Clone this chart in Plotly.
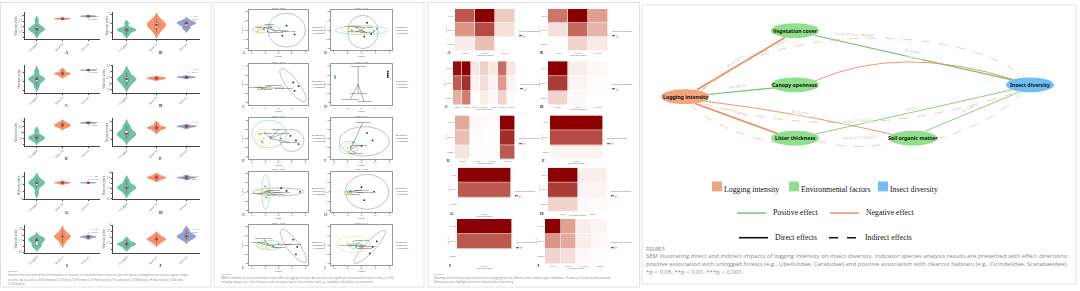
import numpy as np
import plotly.graph_objects as go

W, H = 1080, 291

# ======================= DATA =======================
groups = ["Unlogged", "Selective", "Clearcut"]
letters = list("ABCDEFGHIJ")

# Shannon index samples (Figure 2 violins)
viol_A = [[1.3, 1.6, 1.7, 1.75, 1.8, 1.9, 2.1, 2.6], [2.68, 2.7, 2.72, 2.73, 2.75, 2.78], [2.92, 2.95, 2.96, 2.98, 3.0]]
viol_B = [[0.7, 1.0, 1.2, 1.25, 1.3, 1.35, 1.5, 2.0], [1.0, 1.4, 1.6, 1.8, 1.85, 2.0, 2.2, 2.5], [1.4, 1.5, 1.9, 2.0, 2.0, 2.05, 2.1, 2.3]]
viol_C = [[1.4, 1.9, 2.2, 2.3, 2.35, 2.5, 3.2], [2.6, 2.8, 2.9, 2.92, 3.0, 3.3], [3.28, 3.3, 3.31, 3.32]]
viol_D = [[1.8, 2.1, 2.3, 2.4, 2.45, 2.6, 3.0], [2.35, 2.4, 2.45, 2.46, 2.5, 2.55], [2.48, 2.52, 2.55, 2.56, 2.6]]
viol_E = [[1.3, 1.45, 1.55, 1.6, 1.65, 1.8, 2.2], [2.45, 2.55, 2.62, 2.65, 2.7, 2.8, 2.9], [2.82, 2.84, 2.85, 2.87, 2.9]]
viol_F = [[1.0, 1.3, 1.5, 1.6, 1.65, 1.8, 2.2, 2.6], [1.9, 2.15, 2.25, 2.3, 2.35, 2.45, 2.8], [2.3, 2.4, 2.45, 2.47, 2.5, 2.6]]
viol_G = [[0.8, 1.6, 2.0, 2.15, 2.2, 2.3, 2.5, 2.9], [2.05, 2.15, 2.2, 2.22, 2.25, 2.35], [2.18, 2.2, 2.21, 2.22]]
viol_H = [[1.0, 1.3, 1.5, 1.55, 1.6, 1.7, 1.9, 2.3], [2.3, 2.45, 2.5, 2.55, 2.6, 2.65, 2.8], [2.4, 2.5, 2.53, 2.55, 2.58, 2.7]]
viol_I = [[1.0, 1.05, 1.1, 1.5, 1.55, 1.6, 1.65, 1.7, 1.8], [1.3, 1.6, 1.75, 1.85, 1.9, 2.0, 2.1, 2.4], [1.7, 1.8, 1.83, 1.85, 1.88, 1.95]]
viol_J = [[1.1, 1.3, 1.4, 1.45, 1.5, 1.55, 1.8], [1.5, 1.7, 1.8, 1.85, 1.9, 2.0, 2.2], [1.8, 1.95, 2.05, 2.1, 2.15, 2.3, 2.6]]
violin_sets = [viol_A, viol_B, viol_C, viol_D, viol_E, viol_F, viol_G, viol_H, viol_I, viol_J]
kw_text = ["H=21.52<br>p < 0.001", "H=8.34<br>p = 0.015", "H=18.40<br>p < 0.001", "H=6.21<br>p = 0.045",
           "H=19.87<br>p < 0.001", "H=9.12<br>p = 0.010", "H=4.05<br>p = 0.132", "H=16.73<br>p < 0.001",
           "H=7.66<br>p = 0.022", "H=12.48<br>p = 0.002"]

# NMDS (Figure 3): groups Clearcut / Selective / Unlogged
nmds_groups = ["Clearcut", "Selective", "Unlogged"]
nmds_stress = ["0.085", "0.112", "0.047", "0.000", "0.134", "0.121", "0.066", "0.098", "0.102", "0.117"]
nmds_pts = [
    [[(0.3, 0.24), (0.6, -0.23), (0.14, -0.3)], [(-0.3, 0.15), (-0.55, 0.05), (-0.4, -0.05)], [(-0.75, 0.0), (-0.8, -0.1), (-0.65, 0.05)]],
    [[(0.2, 0.4), (0.35, -0.2), (0.1, -0.35)], [(0.45, -0.05), (-0.35, 0.0), (0.55, 0.08)], [(-0.45, 0.1), (-0.25, -0.05), (0.0, 0.02)]],
    [[(0.55, 0.1), (0.75, -0.1), (0.6, -0.35)], [(-0.7, -0.15), (-0.6, -0.2)], [(-0.75, -0.25), (-0.55, -0.22)]],
    [[(0.95, 0.7), (0.95, 0.6), (0.95, 0.5), (0.95, 0.4)], [(-0.95, 0.45), (-0.95, 0.35)], []],
    [[(0.45, 0.15), (0.65, -0.1), (0.75, -0.3)], [(-0.5, 0.3), (-0.3, 0.1), (-0.6, -0.2), (0.1, 0.0)], [(-0.7, 0.2), (-0.65, -0.1), (-0.55, 0.0)]],
    [[(0.2, 0.3), (0.4, -0.1), (0.0, -0.4)], [(-0.4, -0.45), (-0.3, -0.2)], [(-0.5, -0.5), (-0.45, -0.7)]],
    [[(0.1, 0.2), (0.8, 0.0), (0.3, 0.05)], [(-0.5, 0.3), (-0.45, -0.3), (-0.5, 0.0)], [(-0.6, 0.05), (-0.55, -0.05)]],
    [[(0.0, 0.25), (0.45, 0.0), (0.1, -0.45)], [(-0.5, 0.0), (-0.4, 0.05)], [(-0.6, -0.02), (-0.45, -0.05)]],
    [[(0.55, 0.3), (0.7, -0.1), (0.65, -0.5)], [(-0.4, 0.05), (-0.2, -0.05), (0.0, 0.05)], [(-0.6, -0.05), (-0.45, -0.1)]],
    [[(0.55, 0.2), (0.4, -0.1), (0.3, -0.45)], [(-0.2, -0.1), (0.0, 0.0)], [(-0.5, 0.1), (-0.3, 0.2), (-0.4, -0.05)]],
]
# ellipses: (group, cx, cy, rx, ry, angle)
nmds_ell = [
    [(0, 0.3, 0.0, 0.7, 0.92, 0), (1, -0.45, 0.05, 0.5, 0.2, 0), (2, -0.75, 0.0, 0.25, 0.17, 0)],
    [(0, 0.05, -0.1, 0.55, 0.9, 0), (1, 0.0, 0.0, 0.95, 0.25, 0), (2, -0.15, 0.05, 0.6, 0.2, 0)],
    [(0, 0.54, -0.05, 0.25, 1.0, 26)],
    [],
    [(0, 0.5, -0.1, 0.45, 0.6, 0), (1, -0.35, 0.25, 0.65, 0.75, 0), (2, -0.6, 0.0, 0.3, 0.5, 0)],
    [(0, 0.1, -0.15, 0.9, 0.8, 0), (1, -0.45, -0.5, 0.35, 0.35, 0), (2, -0.4, -0.5, 0.25, 0.25, 0)],
    [(0, 0.0, 0.0, 0.95, 0.22, 0), (1, -0.48, 0.0, 0.15, 0.95, 0), (2, -0.55, 0.0, 0.2, 0.15, 0)],
    [(0, 0.2, 0.0, 0.78, 0.95, 0), (2, -0.5, 0.0, 0.15, 0.08, 0)],
    [(0, 0.55, -0.05, 0.25, 1.0, 26), (1, -0.35, 0.0, 0.5, 0.25, 0), (2, -0.5, -0.05, 0.3, 0.15, 0)],
    [(0, 0.3, -0.1, 0.22, 1.05, -31), (2, -0.3, 0.05, 0.6, 0.45, 0), (1, -0.2, -0.05, 0.25, 0.15, 0)],
]
# environmental vectors: (x0, y0, x1, y1, label)
nmds_vec = [
    [(-0.2, 0.0, -0.55, 0.15, "Canopy openness"), (-0.2, 0.0, 0.35, -0.05, "Vegetation cover"), (-0.2, 0.0, -0.1, -0.12, "Litter thickness"), (-0.2, 0.0, -0.35, 0.28, "Carabidae")],
    [(0, 0, -0.3, 0.2, "Vegetation cover"), (0, 0, 0.2, -0.15, "Litter thickness"), (0, 0, -0.2, -0.1, "Canopy openness"), (0, 0, 0.1, 0.12, "Soil organic matter")],
    [(-0.6, -0.2, -0.2, -0.05, "Canopy openness"), (-0.6, -0.2, 0.2, -0.2, "Soil organic matter"), (-0.6, -0.2, -0.85, -0.15, "Vegetation cover"), (-0.6, -0.2, -0.5, -0.3, "Litter thickness")],
    [(-0.12, 0.0, -0.12, 0.95, "Vegetation cover"), (-0.12, 0.0, -0.12, -0.5, "Canopy openness"), (-0.12, 0.0, -0.4, -0.8, "Soil organic matter"), (-0.12, 0.0, 0.1, -0.95, "Litter thickness")],
    [(-0.3, 0.0, 0.0, 0.5, "Vegetation cover"), (-0.3, 0.0, 0.4, -0.2, "Soil organic matter"), (-0.3, 0.0, -0.5, 0.3, "Litter thickness"), (-0.3, 0.0, 0.1, 0.25, "Canopy openness")],
    [(-0.4, -0.6, 0.05, 0.9, "Vegetation cover"), (-0.4, -0.6, -0.1, -0.35, "Canopy openness"), (-0.4, -0.6, -0.2, -0.8, "Litter thickness")],
    [(-0.45, 0.0, -0.2, 0.1, "Litter thickness"), (-0.45, 0.0, 0.1, -0.05, "Canopy openness"), (-0.45, 0.0, -0.7, -0.1, "Vegetation cover"), (-0.45, 0.0, -0.1, -0.15, "Soil organic matter")],
    [(-0.45, 0.0, 0.0, 0.1, "Vegetation cover"), (-0.45, 0.0, 0.1, -0.05, "Canopy openness"), (-0.45, 0.0, -0.3, -0.15, "Litter thickness")],
    [(-0.4, 0.0, -0.55, 0.35, "Soil organic matter"), (-0.4, 0.0, -0.75, 0.12, "Vegetation cover"), (-0.4, 0.0, 0.55, 0.05, "Canopy openness"), (-0.4, 0.0, 0.0, -0.15, "Litter thickness")],
    [(-0.2, 0.0, 0.0, 0.25, "Vegetation cover"), (-0.2, 0.0, -0.5, 0.0, "Soil organic matter"), (-0.2, 0.0, 0.2, -0.05, "Canopy openness"), (-0.2, 0.0, 0.1, -0.2, "Litter thickness")],
]

# Heatmaps (Figure 4): rows top->bottom
heat_rows = ["Clearcut", "Selective", "Unlogged"]
heat_A = [[0.7, 1.0, 0.25], [0.5, 0.75, 0.15], [0.1, 0.3, 0.0]]
heat_B = [[0.6, 1.0, 0.45], [0.15, 0.65, 0.35], [0.0, 0.2, 0.1]]
heat_C = [[0.9, 0.95, 0.1, 0.2, 0.1, 0.6, 0.1], [0.65, 0.8, 0.05, 0.15, 0.05, 0.45, 0.05], [0.35, 0.55, 0.0, 0.08, 0.03, 0.2, 0.02]]
heat_D = [[1.0, 0.08, 0.03], [0.8, 0.05, 0.02], [0.2, 0.03, 0.0]]
heat_E = [[0.4, 0.03, 0.02, 1.0], [0.3, 0.02, 0.01, 0.85], [0.12, 0.02, 0.01, 0.7]]
heat_F = [[1.0], [0.75], [0.05]]
heat_G = [[1.0], [0.7], [0.0]]
heat_H = [[1.0, 0.08], [0.8, 0.05], [0.2, 0.02]]
heat_I = [[1.0], [0.7], [0.0]]
heat_J = [[1.0, 0.45, 0.08, 0.05], [0.5, 0.4, 0.08, 0.03], [0.2, 0.15, 0.03, 0.01]]
heat_sets = [heat_A, heat_B, heat_C, heat_D, heat_E, heat_F, heat_G, heat_H, heat_I, heat_J]
func_groups = ["Predator", "Herbivore", "Detritivore", "Parasitoid", "Pollinator", "Omnivore", "Fungivore"]

# SEM (Figure 5)
sem_nodes = ["Logging intensity", "Vegetation cover", "Canopy openness", "Litter thickness", "Soil organic matter", "Insect diversity"]
sem_node_type = ["logging", "env", "env", "env", "env", "insect"]
sem_edge_labels = ["β=-0.78***", "β=0.65***", "β=-0.12* (via LT&SOM)", "β=-0.69**", "β=-0.31*", "β=-0.63***",
                   "β=-0.41**", "β=0.25*", "β=-0.22* (via CO)", "β=-0.54*** (via VC)", "β=0.38*"]
legend_items = ["Logging intensity", "Environmental factors", "Insect diversity"]
effect_items = ["Positive effect", "Negative effect"]
path_items = ["Direct effects", "Indirect effects"]

cap2 = ("FIGURE 2",
        "Shannon diversity index of insect communities in response to silvicultural interventions for pine wilt disease management across four regions, Jiangxi",
        "province. (A) Coleoptera, (B) Dermaptera, (C) Diptera, (D) Hemiptera, (E) Hymenoptera, (F) Lepidoptera, (G) Mantodea, (H) Neuroptera, (I) Odonata,",
        "(J) Orthoptera.")
cap3 = ("FIGURE 3",
        "NMDS ordination of insect communities under different logging intensities. Arrows represent significant environmental vectors (envfit, p < 0.05),",
        "including canopy cover, litter thickness, and soil organic matter. Key sensitive taxa (e.g., Carabidae, Libellulidae) are annotated.")
cap4 = ("FIGURE 4",
        "Heatmap of functional group proportions across logging intensity. Warmer colors indicate higher abundance. Predatory Coleoptera and parasitoid",
        "Hymenoptera are highlighted as most reduced under clearcutting.")
cap5 = ("FIGURE 5",
        "SEM illustrating direct and indirect impacts of logging intensity on insect diversity. Indicator species analysis results are presented with effect directions:",
        "positive association with unlogged forests (e.g., Libellulidae, Carabidae) and positive association with clearcut habitats (e.g., Cicindelidae, Scarabaeidae).",
        "*p < 0.05, **p < 0.01, ***p < 0.001.")

# ======================= STYLE / LAYOUT =======================
vio_fill = ["#66c2a5", "#fc8d62", "#8da0cb"]
vio_line = ["#3f9c80", "#d9693f", "#6479ad"]
nmds_pt_col = ["#222222", "#2aa5a5", "#d8d02a"]
nmds_ell_col = ["#a8a8a8", "#9fd3d3", "#e8e49a"]
heat_scale = [[0, "#ffffff"], [0.5, "#dc9484"], [1, "#8b0000"]]

fig = go.Figure()
layout = dict(width=W, height=H, margin=dict(l=0, r=0, t=0, b=0, pad=0), paper_bgcolor="white",
              plot_bgcolor="rgba(0,0,0,0)", showlegend=False, violinmode="overlay")
layout["xaxis"] = dict(domain=[0, 1], range=[0, W], visible=False, fixedrange=True)
layout["yaxis"] = dict(domain=[0, 1], range=[H, 0], visible=False, fixedrange=True)
shapes, annos = [], []
fig.add_trace(go.Scatter(x=[0], y=[0], mode="markers", marker=dict(size=1, opacity=0), xaxis="x", yaxis="y", hoverinfo="skip"))

counter = [1]


def new_axes(x0, x1, top, bottom, xa, ya):
    counter[0] += 1
    i = counter[0]
    layout[f"xaxis{i}"] = dict(domain=[x0 / W, x1 / W], anchor=f"y{i}", **xa)
    layout[f"yaxis{i}"] = dict(domain=[1 - bottom / H, 1 - top / H], anchor=f"x{i}", **ya)
    return f"x{i}", f"y{i}"


def text(x, y, s, size, color="#555", xanchor="left", yanchor="middle", family="Open Sans", angle=0, align="left", bg=None):
    d = dict(x=x, y=y, xref="x", yref="y", text=s, showarrow=False, xanchor=xanchor, yanchor=yanchor,
             font=dict(size=size, color=color, family=family), textangle=angle, align=align, borderpad=0)
    if bg:
        d["bgcolor"] = bg
    annos.append(d)


def card(x0, y0, x1, y1):
    shapes.append(dict(type="rect", xref="x", yref="y", x0=x0, y0=y0, x1=x1, y1=y1,
                       line=dict(color="#e2e2e2", width=1), fillcolor="rgba(0,0,0,0)", layer="below"))


card(0.5, 0.5, 211, 289)
card(214, 0.5, 424, 289)
card(428, 0.5, 639.5, 289)
card(642, 3, 1076, 286)

tiny_ax = dict(showgrid=False, zeroline=False, showline=True, linecolor="#444", linewidth=0.5, ticks="outside",
               ticklen=1.2, tickwidth=0.4, tickcolor="#444", tickfont=dict(size=2.6, color="#555", family="Open Sans"))

# ---------------- Panel 1: violins ----------------
vcols = [(25, 100), (113, 200)]
vtops = [10, 64, 118, 172, 226]
for k, data in enumerate(violin_sets):
    r, c = divmod(k, 2)
    x0, x1 = vcols[c]
    top = vtops[r]
    bottom = top + 28
    xr, yr = new_axes(x0, x1, top, bottom, dict(tiny_ax, tickangle=-45, type="category"),
                      dict(tiny_ax, nticks=6, title=dict(text="Shannon index", font=dict(size=2.8, color="#444"), standoff=1)))
    for g, vals in enumerate(data):
        fig.add_trace(go.Violin(x=[groups[g]] * len(vals), y=vals, xaxis=xr, yaxis=yr, fillcolor=vio_fill[g],
                                line=dict(color=vio_line[g], width=0.5), opacity=0.95, width=0.62,
                                box=dict(visible=True, width=0.16, fillcolor="white", line=dict(color="#333", width=0.4)),
                                meanline_visible=False, points=False, hoverinfo="skip", scalemode="width"))
    fig.add_trace(go.Scatter(x=groups, y=[float(np.median(v)) for v in data], mode="markers", xaxis=xr, yaxis=yr,
                             marker=dict(size=2.6, color="#c8283a"), hoverinfo="skip"))
    text(x1 - 1, top + 2, kw_text[k], 2.3, "#666", xanchor="right", yanchor="top", align="right")
    text((x0 + x1) / 2 + 4, bottom + 13, f"<b>{letters[k]}</b>", 4.5, "#222", xanchor="center", family="Liberation Serif")

# ---------------- Panel 2: NMDS ----------------
ncols = [(249, 308), (331, 392)]
ntops = [8, 63, 118, 172, 226]
nmds_ax = dict(showgrid=False, zeroline=False, showline=True, mirror=True, linecolor="#9a9a9a", linewidth=0.5,
               ticks="outside", ticklen=1, tickwidth=0.4, tickcolor="#888", range=[-1.1, 1.1],
               tickvals=[-1, -0.5, 0, 0.5, 1], ticktext=["-1.0", "-0.5", "0.0", "0.5", "1.0"],
               tickfont=dict(size=2.0, color="#666", family="Open Sans"))
for k in range(10):
    r, c = divmod(k, 2)
    x0, x1 = ncols[c]
    top = ntops[r]
    bottom = top + 41
    xr, yr = new_axes(x0, x1, top, bottom,
                      dict(nmds_ax, title=dict(text="NMDS1", font=dict(size=2.2, color="#444"), standoff=0)),
                      dict(nmds_ax, title=dict(text="NMDS2", font=dict(size=2.2, color="#444"), standoff=0)))
    for (g, cx, cy, rx, ry, ang) in nmds_ell[k]:
        t = np.linspace(0, 2 * np.pi, 80)
        a = np.radians(ang)
        ex = cx + rx * np.cos(t) * np.cos(a) - ry * np.sin(t) * np.sin(a)
        ey = cy + rx * np.cos(t) * np.sin(a) + ry * np.sin(t) * np.cos(a)
        fig.add_trace(go.Scatter(x=ex, y=ey, mode="lines", xaxis=xr, yaxis=yr, line=dict(color=nmds_ell_col[g], width=0.7),
                                 hoverinfo="skip"))
    vx, vy = [], []
    for (a0, b0, a1, b1, lab) in nmds_vec[k]:
        vx += [a0, a1, None]
        vy += [b0, b1, None]
    fig.add_trace(go.Scatter(x=vx, y=vy, mode="lines", xaxis=xr, yaxis=yr, line=dict(color="#333", width=0.4), hoverinfo="skip"))
    fig.add_trace(go.Scatter(x=[v[2] for v in nmds_vec[k]], y=[v[3] for v in nmds_vec[k]], text=[v[4] for v in nmds_vec[k]],
                             mode="text", textposition="middle center", xaxis=xr, yaxis=yr,
                             textfont=dict(size=2.0, color="#222", family="Open Sans"), hoverinfo="skip"))
    for g in range(3):
        pts = nmds_pts[k][g]
        if pts:
            fig.add_trace(go.Scatter(x=[p[0] for p in pts], y=[p[1] for p in pts], mode="markers", xaxis=xr, yaxis=yr,
                                     marker=dict(size=1.8, color=nmds_pt_col[g]), hoverinfo="skip"))
    text((x0 + x1) / 2, top - 1.8, f"Stress = {nmds_stress[k]}", 2.0, "#555", xanchor="center")
    leg = "<br>".join(f'<span style="color:{nmds_pt_col[g]}">●</span> {nmds_groups[g]}' for g in range(3))
    text(x1 + 3, (top + bottom) / 2, leg, 2.3, "#444")
    text(x0 - 8, bottom + 2, letters[k], 4.5, "#222", family="Liberation Serif")

# ---------------- Panel 3: heatmaps ----------------
heat_pos = [(455, 515, 7, 50), (548, 608, 7, 50), (453, 516, 60, 105), (548, 608, 60, 105), (455, 515, 115, 160),
            (550, 603, 115, 160), (458, 511, 168, 213), (548, 607, 168, 213), (457, 512, 220, 266), (545, 607, 220, 266)]
hm_ax = dict(showgrid=False, zeroline=False, showline=False, ticks="", tickfont=dict(size=1.5, color="#666", family="Open Sans"))
for k, z in enumerate(heat_sets):
    x0, x1, top, bottom = heat_pos[k]
    ncol = len(z[0])
    xr, yr = new_axes(x0, x1, top, bottom,
                      dict(hm_ax, tickangle=0, title=dict(text="Functional Group", font=dict(size=2.1, color="#555"), standoff=0)),
                      dict(hm_ax, autorange="reversed", title=dict(text="Logging", font=dict(size=2.1, color="#555"), standoff=0)))
    ca = f"coloraxis{k + 1}" if k else "coloraxis"
    zmax = max(max(row) for row in z)
    layout[ca] = dict(colorscale=heat_scale, cmin=0, cmax=zmax,
                      colorbar=dict(x=(x1 + 4) / W, xanchor="left", y=1 - ((top + bottom) / 2 + 2) / H, yanchor="middle",
                                    len=10, lenmode="pixels", thickness=3, outlinewidth=0, xpad=0, ypad=0,
                                    title=dict(text="Relative abundance", side="top", font=dict(size=2.2, color="#555")),
                                    tickfont=dict(size=2, color="#666"), ticklen=0.8, tickwidth=0.3, nticks=4))
    fig.add_trace(go.Heatmap(z=z, x=func_groups[:ncol], y=heat_rows,
                             coloraxis=ca, xaxis=xr, yaxis=yr, xgap=0.6, ygap=0.6, hoverinfo="skip"))
    text(x0 - 9, bottom + 1, f"<b>{letters[k]}</b>", 4.5, "#222", family="Liberation Serif")

# ---------------- Panel 4: SEM ----------------
node_xy = [(685, 96), (795, 29), (795, 84), (795, 138), (913, 138), (1030, 84)]
node_w, node_h = 48, 15
node_fill = {"logging": "#f4a47c", "env": "#8ee08a", "insect": "#6ec0f4"}
col_neg, col_pos, col_dash = "#ee8b5c", "#6cc36a", "#f4b192"
edges = [
    ("M 697,89 L 785,36", col_neg, 1.6, "solid"),
    ("M 705,94 L 775,87", col_pos, 1.1, "solid"),
    ("M 695,103 L 785,136", col_neg, 1.6, "solid"),
    ("M 700,100 Q 800,112 900,136", col_neg, 0.9, "solid"),
    ("M 815,34 L 1012,79", col_pos, 1.2, "solid"),
    ("M 815,80 Q 900,42 1015,79", col_neg, 0.9, "solid"),
    ("M 815,134 L 1012,89", col_pos, 0.8, "solid"),
    ("M 925,131 L 1020,91", col_pos, 0.8, "solid"),
    ("M 700,92 C 760,22 960,20 1025,77", col_dash, 0.7, "dash"),
    ("M 703,103 Q 850,146 1012,93", col_dash, 0.7, "dash"),
    ("M 818,141 Q 860,152 895,141", col_dash, 0.7, "dash"),
    ("M 1022,92 Q 990,125 932,140", col_dash, 0.7, "dash"),
    ("M 690,104 Q 720,132 778,143", col_dash, 0.7, "dash"),
    ("M 700,91 Q 740,60 785,40", col_dash, 0.7, "dash"),
]
for (p, col, w, dash) in edges:
    shapes.append(dict(type="path", xref="x", yref="y", path=p, line=dict(color=col, width=w, dash=dash),
                       fillcolor="rgba(0,0,0,0)"))
for i, name in enumerate(sem_nodes):
    cx, cy = node_xy[i]
    shapes.append(dict(type="circle", xref="x", yref="y", x0=cx - node_w / 2, x1=cx + node_w / 2,
                       y0=cy - node_h / 2, y1=cy + node_h / 2, fillcolor=node_fill[sem_node_type[i]], line=dict(width=0)))
    text(cx, cy, f"<b>{name}</b>", 5.2, "#111", xanchor="center", family="Noto Sans")
label_pos = [(735, 60, -31), (737, 86, -5), (855, 33, 3), (913, 50, 12), (913, 56, 12), (738, 112, 22),
             (800, 112, 10), (912, 108, -13), (857, 120, -5), (860, 137, -3), (968, 108, -25)]
for s, (lx, ly, la) in zip(sem_edge_labels, label_pos):
    text(lx, ly, s, 3.6, "#b8b8b8", xanchor="center", angle=la, bg="rgba(255,255,255,0.55)")

# legend
sq_x = [712, 789, 878]
sq_col = [node_fill["logging"], node_fill["env"], node_fill["insect"]]
for i, lab in enumerate(legend_items):
    shapes.append(dict(type="rect", xref="x", yref="y", x0=sq_x[i], x1=sq_x[i] + 10, y0=182, y1=192,
                       fillcolor=sq_col[i], line=dict(width=0)))
    text(sq_x[i] + 11, 190, lab, 7.8, "#111", family="Liberation Serif")
for i, (lab, col, lx) in enumerate(zip(effect_items, [col_pos, col_neg], [737, 830])):
    shapes.append(dict(type="line", xref="x", yref="y", x0=lx, x1=lx + 29, y0=214, y1=214, line=dict(color=col, width=1.4)))
    text(lx + 35, 213.5, lab, 7.8, "#111", family="Liberation Serif")
for i, (lab, dash, lx) in enumerate(zip(path_items, ["solid", "dash"], [739, 829])):
    shapes.append(dict(type="line", xref="x", yref="y", x0=lx, x1=lx + 29, y0=239, y1=239,
                       line=dict(color="#111", width=1.6, dash=dash)))
    text(lx + 35, 238.5, lab, 7.8, "#111", family="Liberation Serif")


# captions
def caption(lines, x, y0, dy, size, head_size):
    text(x, y0, lines[0], head_size, "#777")
    for j, ln in enumerate(lines[1:]):
        text(x, y0 + dy * (j + 1), ln, size, "#888")


caption(cap2, 7, 273, 4.2, 2.6, 2.4)
caption(cap3, 220, 276, 4.2, 2.6, 2.4)
caption(cap4, 433, 276, 4.2, 2.6, 2.4)
caption(cap5, 645, 250, 8, 6.0, 4.4)

layout["shapes"] = shapes
layout["annotations"] = annos
fig.update_layout(**layout)
fig.write_html("out.html")
